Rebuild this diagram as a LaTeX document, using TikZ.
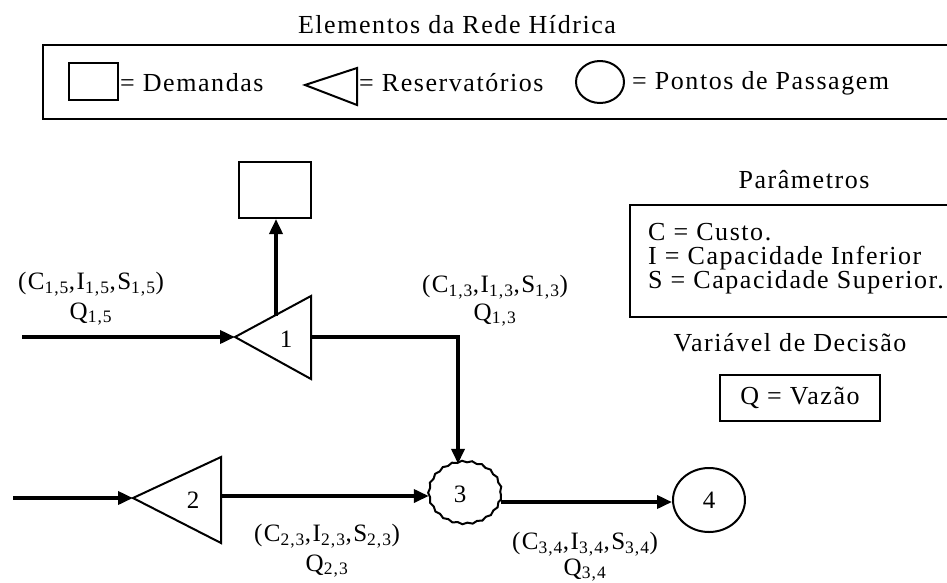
\documentclass[tikz,border=0pt]{standalone}
\usepackage{fontspec}
\setmainfont{Liberation Serif}
\newfontfamily\trk[LetterSpace=6]{Liberation Serif}
\usetikzlibrary{arrows.meta,decorations.pathmorphing,shapes.geometric}
\newcommand\sbs[1]{\textsubscript{#1}}
\begin{document}
\begin{tikzpicture}[x=1pt,y=-1pt,
  txt/.style={font=\trk\fontsize{26}{24}\selectfont, inner sep=0pt},
  lbl/.style={font=\trk\fontsize{25}{28}\selectfont, inner sep=0pt, align=center},
  frame/.style={draw, line width=2.6pt},
  shp/.style={draw, line width=2pt},
  flow/.style={line width=3.6pt, -{Triangle[length=15pt,width=13pt]}},
  wavy/.style={draw, line width=2pt, decorate, decoration={snake, segment length=10pt, amplitude=0.8pt}},
]
\useasboundingbox (0,0) rectangle (947,582);
\fill[white] (0,0) rectangle (947,582);

% legend
\node[txt] (title) at (457,25) {Elementos da Rede Hídrica};
\draw[frame] (43,45) rectangle (965,119);
\node[shp, minimum width=49pt, minimum height=37pt, inner sep=0pt] (legsq) at (93.5,81.5) {};
\node[txt, anchor=west] (legdem) at (120,83) {= Demandas};
\draw[shp, line join=miter] (357,68) -- (305,85) -- (357,105) -- cycle;
\coordinate (legtri) at (331,86);
\node[txt, anchor=west] (legres) at (359,83) {= Reservatórios};
\node[shp, ellipse, minimum width=48pt, minimum height=42pt, inner sep=0pt] (legcirc) at (600,82) {};
\node[txt, anchor=west] (legpas) at (632,83) {= Pontos de Passagem};

% network shapes
\node[shp, minimum width=72pt, minimum height=56pt, inner sep=0pt] (dem) at (275,190) {};
\draw[shp, line join=miter] (311,296) -- (235,337) -- (311,379) -- cycle;
\coordinate (t1tip) at (235,337);
\coordinate (t1right) at (311,337);
\coordinate (t1top) at (276,316);
\node[lbl] (n1) at (286,339) {1};
\draw[shp, line join=miter] (221,457) -- (133,498) -- (221,543) -- cycle;
\coordinate (t2tip) at (133,498);
\coordinate (t2right) at (221,496);
\node[lbl] (n2) at (193,500) {2};
\node[ellipse, minimum width=72pt, minimum height=62pt, inner sep=0pt] (c3) at (465,495) {};
\draw[wavy] (465,495) ellipse [x radius=36pt, y radius=31pt];
\node[lbl] (n3) at (460,494) {3};
\node[shp, ellipse, minimum width=72pt, minimum height=64pt, inner sep=0pt, font=\fontsize{25}{28}\selectfont] (c4) at (709,500) {4};

% sources
\coordinate (s1) at (22,337);
\coordinate (s2) at (13,498);
\coordinate (bend) at (458,337);

% connectors
\draw[flow] (s1) -- (t1tip);
\draw[flow] (t1top) -- (dem.south -| t1top);
\draw[flow] (t1right) -- (bend) -- (c3.north -| bend);
\draw[flow] (s2) -- (t2tip);
\draw[flow] (t2right) -- (c3.west |- t2right);
\draw[flow] (c3.east |- 0,502) -- (c4.west |- 0,502);

% flow labels
\node[lbl] (l15) at (91,284) {(C\sbs{1,5},I\sbs{1,5},S\sbs{1,5})};
\node[lbl] (q15) at (91,314) {Q\sbs{1,5}};
\node[lbl] (l13) at (495,287) {(C\sbs{1,3},I\sbs{1,3},S\sbs{1,3})};
\node[lbl] (q13) at (495,315) {Q\sbs{1,3}};
\node[lbl] (l23) at (327,536) {(C\sbs{2,3},I\sbs{2,3},S\sbs{2,3})};
\node[lbl] (q23) at (327,566) {Q\sbs{2,3}};
\node[lbl] (l34) at (585,544) {(C\sbs{3,4},I\sbs{3,4},S\sbs{3,4})};
\node[lbl] (q34) at (585,570) {Q\sbs{3,4}};

% parameters
\node[txt] (ptitle) at (804,180) {Parâmetros};
\draw[frame] (630,205) rectangle (965,317);
\node[txt, anchor=west, align=left] (plist) at (648,259) {C = Custo.\\I = Capacidade Inferior\\S = Capacidade Superior.};
\node[txt] (vtitle) at (790,343) {Variável de Decisão};
\node[frame, minimum width=160pt, minimum height=46pt, inner sep=0pt, font=\trk\fontsize{26}{29}\selectfont] (vbox) at (800,398) {Q = Vazão};
\end{tikzpicture}
\end{document}
